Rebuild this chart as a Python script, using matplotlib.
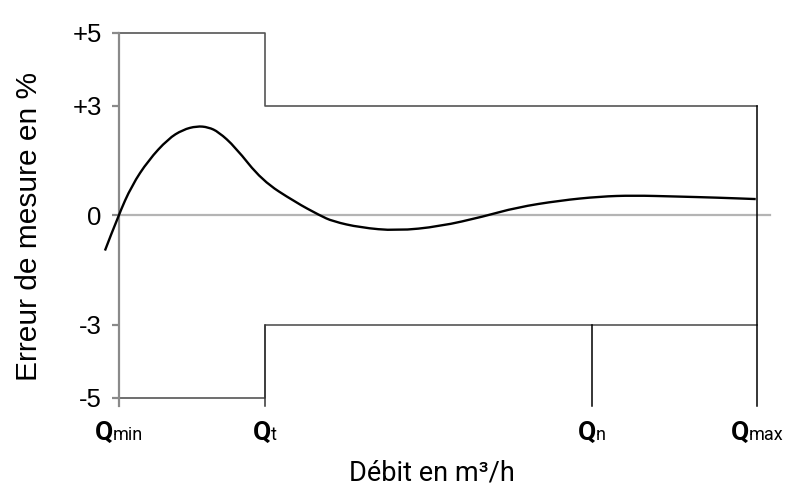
import numpy as np
import matplotlib
matplotlib.use('Agg')
from matplotlib import pyplot as plt
from matplotlib.path import Path
from matplotlib.patches import PathPatch
from matplotlib.offsetbox import TextArea, HPacker, AnnotationBbox

# positions on the flow axis, Qmin = 0 and Qmax = 100
q_pos = [0, 22.9, 74.1, 100]
q_main = ['Q', 'Q', 'Q', 'Q']
q_sub = ['min', 't', 'n', 'max']

# tolerance limits (upper / lower), step at Qt
lim_x = [0, 22.9, 22.9, 100]
lim_up = [5, 5, 3, 3]
lim_lo = [-5, -5, -3, -3]

# measured error curve
curve_x = [-2.2, -0.1, 2.0, 4.6, 7.7, 10.0, 12.2, 14.0, 15.6, 18.2, 22.4, 27.6,
           31.5, 33.5, 37.8, 43.5, 50.3, 57.1, 62.3, 69.1, 75.4, 80.6, 87.4, 93.7, 99.8]
curve_y = [-0.96, 0.0, 0.82, 1.51, 2.10, 2.35, 2.45, 2.42, 2.29, 1.88, 0.96, 0.37,
           0.0, -0.16, -0.33, -0.42, -0.30, -0.03, 0.22, 0.41, 0.52, 0.55, 0.52, 0.49, 0.45]

y_ticks = [5, 3, 0, -3, -5]
y_labels = ['+5', '+3', '0', '-3', '-5']

W, H = 803, 499
fig = plt.figure(figsize=(W / 100, H / 100), dpi=100)
# axes placed so that Qmin sits at px 119, Qmax at px 757, 0 at px 215.5
x0, x1 = 95, 785
y0, y1 = 20, 430
ax = fig.add_axes([x0 / W, 1 - y1 / H, (x1 - x0) / W, (y1 - y0) / H])
ax.set_xlim((x0 - 119) / 6.38, (x1 - 119) / 6.38)
ax.set_ylim((215.5 - y1) / 36.5, (215.5 - y0) / 36.5)

for s in ['top', 'right', 'bottom']:
    ax.spines[s].set_visible(False)
ax.spines['left'].set_position(('data', 0))
ax.spines['left'].set_bounds(-5.22, 5)
ax.spines['left'].set_color('#8a8a8a')
ax.spines['left'].set_linewidth(1.6)
ax.set_xticks([])
ax.set_yticks(y_ticks)
ax.set_yticklabels(y_labels, fontsize=18.5, family=['Liberation Sans', 'DejaVu Sans'])
ax.tick_params(axis='y', length=5, width=1.6, color='#8a8a8a', pad=7.5)

# zero line
ax.plot([0, 102], [0, 0], color='#b4b4b4', lw=1.6, zorder=1)

# tolerance limits: +5 / +3 and -5 / -3 with a step at Qt
ax.plot(lim_x, lim_up, color='#555555', lw=1.2, zorder=2)
ax.plot(lim_x, lim_lo, color='#555555', lw=1.2, zorder=2)
ax.plot([q_pos[1], q_pos[1]], [lim_lo[2], -5.22], color='#333333', lw=1.1, zorder=2)
ax.plot([q_pos[2], q_pos[2]], [lim_lo[2], -5.22], color='black', lw=1.1, zorder=2)
ax.plot([q_pos[3], q_pos[3]], [lim_up[3], -5.22], color='black', lw=1.1, zorder=2)

# smooth curve: quadratic bezier through the midpoints of the read points
pts = np.column_stack([curve_x, curve_y])
verts = [pts[0]]
codes = [Path.MOVETO]
for i in range(1, len(pts) - 1):
    mid = (pts[i] + pts[i + 1]) / 2
    verts += [pts[i], mid]
    codes += [Path.CURVE3, Path.CURVE3]
verts.append(pts[-1])
codes.append(Path.LINETO)
ax.add_patch(PathPatch(Path(verts, codes), fill=False, edgecolor='black', lw=1.7, zorder=3))

# Q labels with small subscript on the baseline
for xp, m, s in zip(q_pos, q_main, q_sub):
    big = TextArea(m, textprops=dict(fontsize=19, family='Roboto', fontweight='bold'))
    small = TextArea(s, textprops=dict(fontsize=13, family='Roboto'))
    box = HPacker(children=[big, small], align='baseline', pad=0, sep=0)
    ab = AnnotationBbox(box, (xp, -5.62), box_alignment=(0.5, 1), frameon=False,
                        pad=0, annotation_clip=False)
    ax.add_artist(ab)

fig.text(432 / W, 1 - 473 / H, 'Débit en m³/h', fontsize=19.5, family='Roboto',
         ha='center', va='center')
fig.text(29 / W, 1 - 226 / H, 'Erreur de mesure en %', fontsize=21.5,
         family=['Liberation Sans', 'DejaVu Sans'], rotation=90, ha='center', va='center')

fig.savefig('out.png', dpi=100)
